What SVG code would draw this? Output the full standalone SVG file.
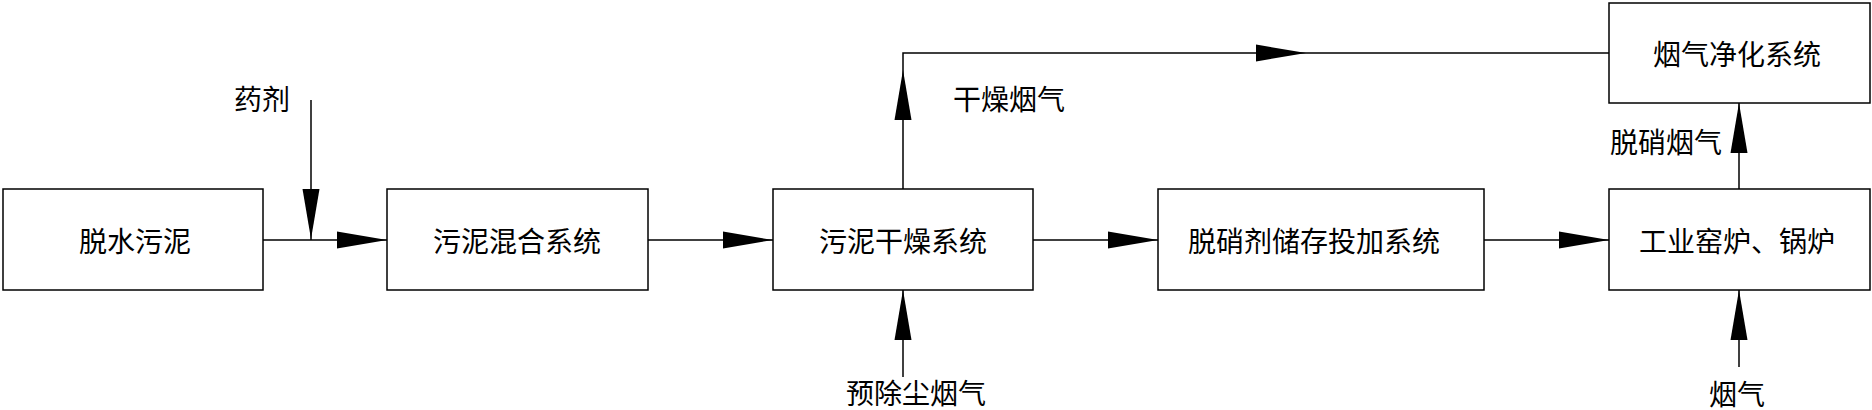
<svg xmlns="http://www.w3.org/2000/svg" xmlns:xlink="http://www.w3.org/1999/xlink" width="1872" height="410" viewBox="0 0 1872 410">
<style>
.box{fill:#fff;stroke:#000;stroke-width:1.5}
.ln{fill:none;stroke:#000;stroke-width:1.5}
.t{font-family:"Noto Sans CJK SC","Liberation Serif",serif;font-size:28px;fill:#000;text-anchor:middle;dominant-baseline:central}
</style>
<defs>
<path id="ah" d="M0,0 L-50,-8.5 L-50,8.5 Z" fill="#000"/>
</defs>
<rect width="1872" height="410" fill="#fff"/>
<g id="connectors">
<path class="ln" d="M263,240 H387"/>
<path class="ln" d="M311,100 V240"/>
<path class="ln" d="M648,240 H773"/>
<path class="ln" d="M1033,240 H1158"/>
<path class="ln" d="M903,189 V53 H1609"/>
<path class="ln" d="M903,377 V290"/>
<path class="ln" d="M1484,240 H1609"/>
<path class="ln" d="M1739,189 V103"/>
<path class="ln" d="M1739,367 V290"/>
<use xlink:href="#ah" transform="translate(311,239) rotate(90)"/>
<use xlink:href="#ah" transform="translate(387,240)"/>
<use xlink:href="#ah" transform="translate(773,240)"/>
<use xlink:href="#ah" transform="translate(903,70) rotate(-90)"/>
<use xlink:href="#ah" transform="translate(903,290) rotate(-90)"/>
<use xlink:href="#ah" transform="translate(1158,240)"/>
<use xlink:href="#ah" transform="translate(1306,53)"/>
<use xlink:href="#ah" transform="translate(1609,240)"/>
<use xlink:href="#ah" transform="translate(1739,103) rotate(-90)"/>
<use xlink:href="#ah" transform="translate(1739,290) rotate(-90)"/>
<text class="t" x="262" y="98">药剂</text>
<text class="t" x="1009" y="98">干燥烟气</text>
<text class="t" x="916" y="392">预除尘烟气</text>
<text class="t" x="1666" y="141">脱硝烟气</text>
<text class="t" x="1737" y="393">烟气</text>
</g>
<g id="n1"><rect class="box" x="3" y="189" width="260" height="101"/><text class="t" x="135" y="240">脱水污泥</text></g>
<g id="n2"><rect class="box" x="387" y="189" width="261" height="101"/><text class="t" x="517" y="240">污泥混合系统</text></g>
<g id="n3"><rect class="box" x="773" y="189" width="260" height="101"/><text class="t" x="903" y="240">污泥干燥系统</text></g>
<g id="n4"><rect class="box" x="1158" y="189" width="326" height="101"/><text class="t" x="1314" y="240">脱硝剂储存投加系统</text></g>
<g id="n5"><rect class="box" x="1609" y="189" width="261" height="101"/><text class="t" x="1737" y="240">工业窑炉、锅炉</text></g>
<g id="n6"><rect class="box" x="1609" y="3" width="261" height="100"/><text class="t" x="1737" y="53">烟气净化系统</text></g>
</svg>
